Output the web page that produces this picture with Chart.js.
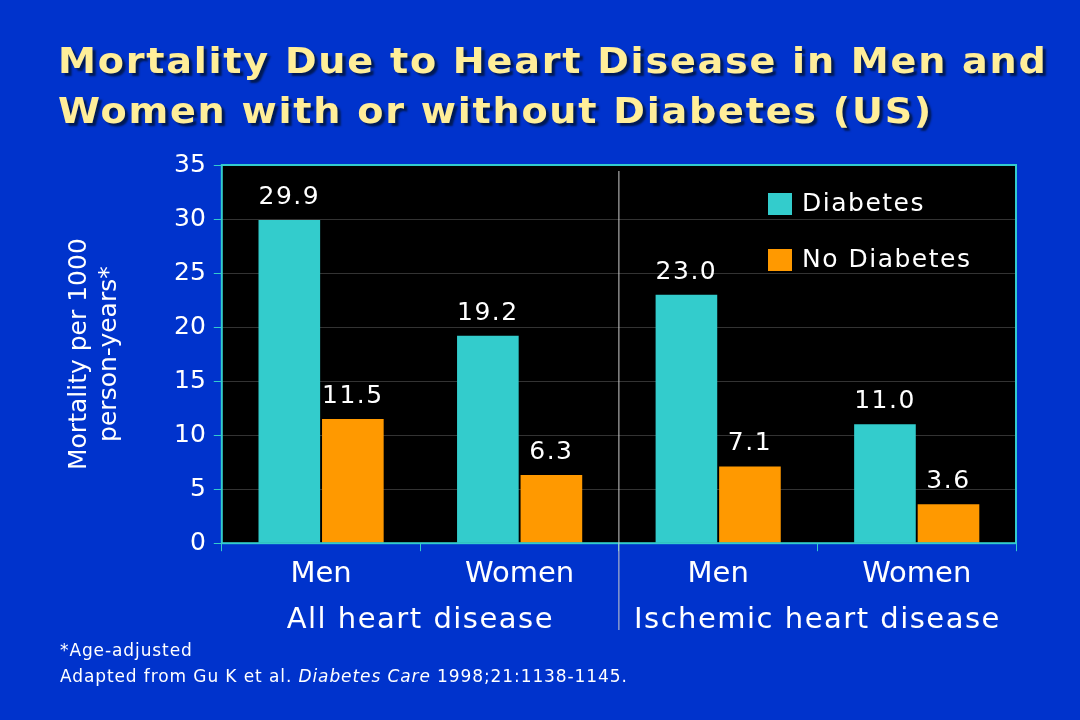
<!DOCTYPE html>
<html><head><meta charset="utf-8">
<script src="https://cdn.jsdelivr.net/npm/chart.js@4"></script>
<style>
body{margin:0;width:1080px;height:720px;background:#0033cc;overflow:hidden;position:relative;font-family:"DejaVu Sans",Verdana,sans-serif}
h1{position:absolute;left:58px;top:36px;margin:0;color:#ffee99;font-size:35px;letter-spacing:1.6px;line-height:50px;font-weight:bold;text-shadow:3px 3px 2px #001a55;transform:scaleX(1.09);transform-origin:left top}
#c{position:absolute;left:0;top:0}
.note{position:absolute;left:60px;color:#fff;font-size:17px;letter-spacing:0.9px}
</style></head><body>
<canvas id="c" width="1080" height="720"></canvas>
<h1>Mortality Due to Heart Disease in Men and<br>Women with or without Diabetes (US)</h1>
<div class="note" style="top:640px">*Age-adjusted</div>
<div class="note" style="top:666px">Adapted from Gu K et al. <i>Diabetes Care</i> 1998;21:1138-1145.</div>
<script>
const categories = ['Men', 'Women', 'Men', 'Women'];
const groups = ['All heart disease', 'Ischemic heart disease'];
const diabetes = [29.9, 19.2, 23.0, 11.0];
const noDiabetes = [11.5, 6.3, 7.1, 3.6];
const seriesNames = ['Diabetes', 'No Diabetes'];
const colors = ['#33cccc', '#ff9900'];

const extras = {
  id: 'extras',
  beforeDraw(chart) {
    const {ctx, chartArea: a} = chart;
    ctx.save();
    ctx.fillStyle = '#000';
    ctx.fillRect(a.left, a.top, a.right - a.left, a.bottom - a.top);
    ctx.restore();
  },
  afterDraw(chart) {
    const {ctx, chartArea: a, scales: {x}} = chart;
    ctx.save();
    ctx.strokeStyle = '#33cccc';
    ctx.lineWidth = 2;
    ctx.strokeRect(a.left, a.top, a.right - a.left, a.bottom - a.top);
    const mid = (x.getPixelForValue(1) + x.getPixelForValue(2)) / 2;
    ctx.strokeStyle = '#ccc';
    ctx.lineWidth = 1;
    ctx.beginPath(); ctx.moveTo(mid, a.top + 6); ctx.lineTo(mid, 630); ctx.stroke();
    ctx.letterSpacing = '1.5px';
    // value labels
    ctx.fillStyle = '#fff';
    ctx.font = '25px "DejaVu Sans"';
    ctx.textAlign = 'center';
    ctx.textBaseline = 'bottom';
    chart.data.datasets.forEach((ds, i) => {
      chart.getDatasetMeta(i).data.forEach((bar, j) => {
        ctx.fillText(ds.data[j].toFixed(1), bar.x, bar.y - 10);
      });
    });
    // group labels
    ctx.font = '29px "DejaVu Sans"';
    ctx.textBaseline = 'middle';
    ctx.fillText(groups[0], (x.getPixelForValue(0) + x.getPixelForValue(1)) / 2, 620);
    ctx.fillText(groups[1], (x.getPixelForValue(2) + x.getPixelForValue(3)) / 2, 620);
    // legend
    ctx.textAlign = 'left';
    ctx.font = '25px "DejaVu Sans"';
    seriesNames.forEach((n, i) => {
      const y = 204 + i * 56;
      ctx.fillStyle = colors[i];
      ctx.fillRect(768, y - 11, 24, 22);
      ctx.fillStyle = '#fff';
      ctx.fillText(n, 802, y);
    });
    ctx.restore();
  }
};

new Chart(document.getElementById('c'), {
  type: 'bar',
  data: {
    labels: categories,
    datasets: [
      {label: seriesNames[0], data: diabetes, backgroundColor: colors[0]},
      {label: seriesNames[1], data: noDiabetes, backgroundColor: colors[1]}
    ]
  },
  options: {
    responsive: false,
    animation: false,
    layout: {padding: {top: 165, right: 64, bottom: 122, left: 60}},
    datasets: {bar: {categoryPercentage: 0.64, barPercentage: 0.97}},
    plugins: {legend: {display: false}, tooltip: {enabled: false}},
    scales: {
      x: {
        grid: {display: true, drawOnChartArea: false, color: '#33cccc', tickLength: 8, offset: true},
        border: {color: '#33cccc'},
        ticks: {color: '#fff', font: {size: 29, family: 'DejaVu Sans'}, padding: 6}
      },
      y: {
        min: 0, max: 35,
        ticks: {stepSize: 5, color: '#fff', font: {size: 25, family: 'DejaVu Sans'}, padding: 8},
        grid: {color: '#333', tickLength: 8, tickColor: '#33cccc'},
        border: {color: '#33cccc'},
        title: {display: true, text: ['Mortality per 1000', 'person-years*'], color: '#fff',
                font: {size: 25, family: 'DejaVu Sans'}, padding: {bottom: 42}}
      }
    }
  },
  plugins: [extras]
});
</script>
</body></html>
